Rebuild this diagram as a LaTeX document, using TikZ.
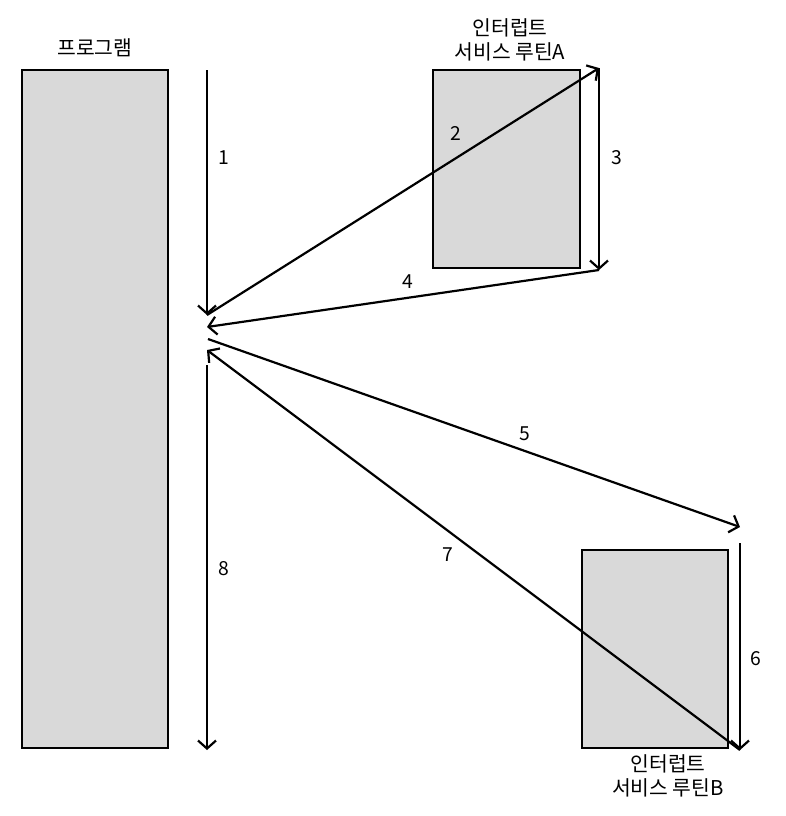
\documentclass[tikz,border=0pt]{standalone}
\usepackage{fontspec}
\setmainfont{Noto Sans CJK KR}
\usetikzlibrary{arrows.meta}

\tikzset{
	routine/.style={draw,line width=1.3pt,fill=black!15,inner sep=0pt},
	flow/.style={line width=1.25pt,-{Straight Barb[length=1.6mm,width=3.6mm,line width=1.25pt]}},
	caption/.style={align=center,font=\fontsize{11.6}{13.6}\selectfont},
	num/.style={font=\fontsize{11}{13}\selectfont}
}

\begin{document}
\begin{tikzpicture}[x=0.02cm,y=-0.02cm]

\useasboundingbox (0,0) rectangle (786,816);

% boxes
\node[routine,minimum width=2.92cm,minimum height=13.56cm] (prog) at (95,409) {};
\node[routine,minimum width=2.94cm,minimum height=3.96cm] (isrA) at (506.5,169) {};
\node[routine,minimum width=2.92cm,minimum height=3.96cm] (isrB) at (655,649) {};

\node[caption] (progtxt) at (95,48) {프로그램};
\node[caption] (isrAtxt) at (510,40) {인터럽트\\서비스 루틴A};
\node[caption] (isrBtxt) at (668,776) {인터럽트\\서비스 루틴B};

% free ends of the arrows
\coordinate (mainTop) at (207,70);
\coordinate (mainStop) at (207,315);
\coordinate (backA) at (207,327);
\coordinate (leaveB) at (208,339);
\coordinate (backB) at (207,350);
\coordinate (mainGo) at (207,365);
\coordinate (mainEnd) at (207,750);
\coordinate (aTop) at (599,68);
\coordinate (aBot) at (599,270);
\coordinate (bIn) at (740,527);
\coordinate (bTop) at (740,543);
\coordinate (bBot) at (740,750);

\draw[flow] (mainTop) -- (mainStop);
\draw[flow] (mainStop) -- (aTop);
\draw[flow] (aTop) -- (aBot);
\draw[flow] (aBot) -- (backA);
\draw[flow] (leaveB) -- (bIn);
\draw[flow] (bTop) -- (bBot);
\draw[flow] (bBot) -- (backB);
\draw[flow] (mainGo) -- (mainEnd);

\node[num] (n1) at (224,158) {1};
\node[num] (n2) at (456,133) {2};
\node[num] (n3) at (617,158) {3};
\node[num] (n4) at (408,282) {4};
\node[num] (n5) at (525,434) {5};
\node[num] (n6) at (756,659) {6};
\node[num] (n7) at (448,555) {7};
\node[num] (n8) at (224,569) {8};

\end{tikzpicture}
\end{document}
